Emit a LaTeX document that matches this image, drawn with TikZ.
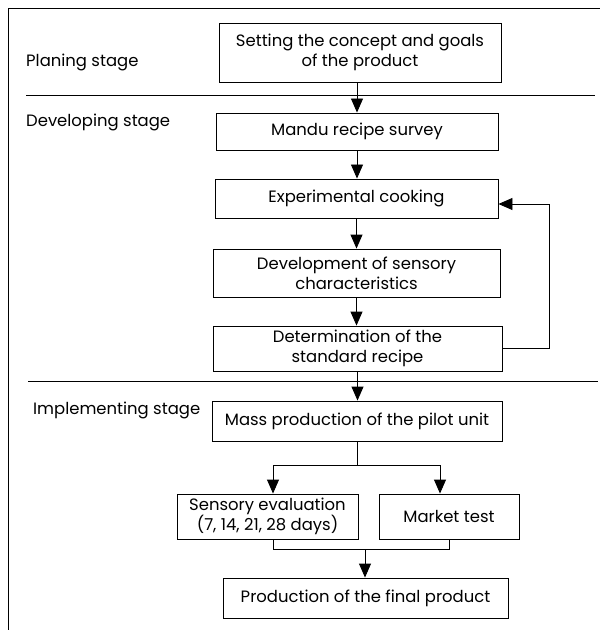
\documentclass[tikz,border=0pt]{standalone}
\usepackage{fontspec}
\setmainfont{Poppins}
\usetikzlibrary{arrows.meta}
\begin{document}
\begin{tikzpicture}[x=1bp,y=-1bp,
  box/.style={draw, line width=0.9bp, align=center, inner sep=0pt, font=\fontsize{16.5}{20}\selectfont},
  lbl/.style={anchor=west, inner sep=0pt, font=\fontsize{16.5}{20}\selectfont},
  ln/.style={line width=0.9bp},
  arr/.style={line width=0.9bp, -{Triangle[length=14bp,width=12bp]}}]
\useasboundingbox (0,0) rectangle (606,630);
% frame
\coordinate (f1) at (8,630);
\coordinate (f2) at (8,8);
\coordinate (f3) at (600,8);
\draw[ln] (f1) -- (f2) -- (f3);
% separators
\coordinate (s1a) at (26,95);
\coordinate (s1b) at (595,95);
\coordinate (s2a) at (28,381);
\coordinate (s2b) at (598,381);
\draw[ln] (s1a) -- (s1b);
\draw[ln] (s2a) -- (s2b);
% stage labels
\node[lbl] (l1) at (26,62) {Planing stage};
\node[lbl] (l2) at (26,122) {Developing stage};
\node[lbl] (l3) at (33,410) {Implementing stage};
% boxes
\node[box, minimum width=282bp, minimum height=59bp] (b1) at (360,52.5) {Setting the concept and goals\\of the product};
\node[box, minimum width=282bp, minimum height=37bp] (b2) at (357,131.5) {Mandu recipe survey};
\node[box, minimum width=283bp, minimum height=39bp] (b3) at (356.5,198.5) {Experimental cooking};
\node[box, minimum width=287bp, minimum height=48bp] (b4) at (356.5,273) {Development of sensory\\characteristics};
\node[box, minimum width=289bp, minimum height=45bp] (b5) at (357.5,348.5) {Determination of the\\standard recipe};
\node[box, minimum width=290bp, minimum height=40bp] (b6) at (357,421) {Mass production of the pilot unit};
\node[box, minimum width=181bp, minimum height=45bp] (b7) at (267.5,516.5) {Sensory evaluation\\(7, 14, 21, 28 days)};
\node[box, minimum width=140bp, minimum height=45bp] (b8) at (449,516.5) {Market test};
\node[box, minimum width=285bp, minimum height=40bp] (b9) at (365.5,598) {Production of the final product};
% main flow
\draw[arr] (b1.south -| b2.north) -- (b2.north);
\draw[arr] (b2.south) -- (b2.south |- b3.north);
\draw[arr] (b3.south) -- (b3.south |- b4.north);
\draw[arr] (b4.south) -- (b4.south |- b5.north);
\draw[arr] (b5.south) -- (b5.south |- b6.north);
% feedback loop
\coordinate (fb1) at (549,348.5);
\coordinate (fb2) at (549,204);
\draw[arr] (b5.east) -- (fb1) -- (fb2) -- (fb2 -| b3.east);
% branch
\coordinate (bl) at (273,465);
\coordinate (brr) at (440,465);
\draw[ln] (b6.south) -- (b6.south |- bl);
\draw[ln] (bl) -- (brr);
\draw[arr] (bl) -- (bl |- b7.north);
\draw[arr] (brr) -- (brr |- b8.north);
% merge
\coordinate (ml) at (273,549);
\coordinate (mr) at (449,549);
\coordinate (mm) at (365,549);
\draw[ln] (ml |- b7.south) -- (ml) -- (mr) -- (mr |- b8.south);
\draw[arr] (mm) -- (mm |- b9.north);
\end{tikzpicture}
\end{document}
